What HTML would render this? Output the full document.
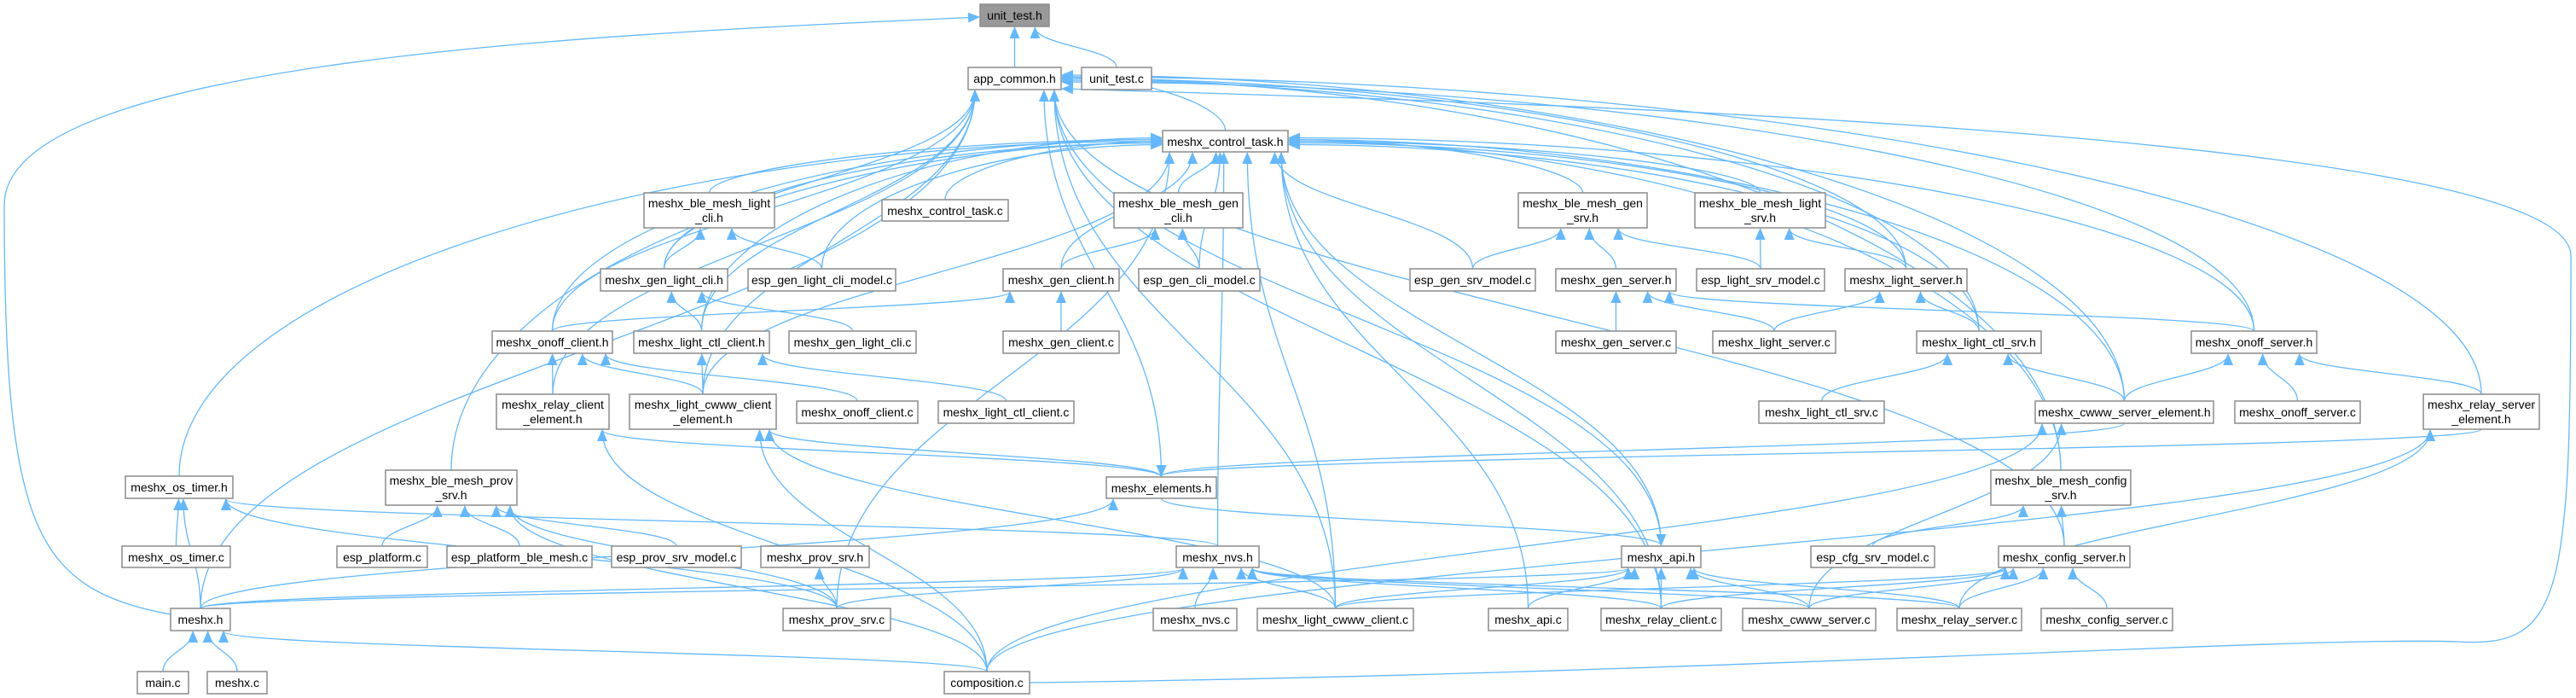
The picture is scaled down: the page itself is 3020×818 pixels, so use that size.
<!DOCTYPE html>
<html><head><meta charset="utf-8"><style>
html,body{margin:0;padding:0;background:#fff;}
svg{display:block;}
text{font-family:"Liberation Sans",Arial,sans-serif;font-size:14px;fill:#000;text-anchor:middle;}
rect{fill:#fff;stroke:#8c8c8c;stroke-width:1.5;}
</style></head><body>
<svg id="s" width="3020" height="818" xmlns="http://www.w3.org/2000/svg">
<defs><marker id="a" markerUnits="userSpaceOnUse" markerWidth="14" markerHeight="12" refX="13" refY="6" orient="auto"><path d="M0,0 L14,6 L0,12 z" fill="#63b8ff"/></marker></defs>
<g id="edges" fill="none" stroke="#63b8ff" stroke-width="1.3"></g>
<g id="nodes">
<g id="ut_h"><rect x="1149" y="5" width="81" height="26" style="fill:#999"/><text x="1189.5" y="23">unit_test.h</text></g>
<g id="ac"><rect x="1135" y="79" width="109" height="26"/><text x="1189.5" y="97">app_common.h</text></g>
<g id="ut_c"><rect x="1268" y="79" width="82" height="26"/><text x="1309" y="97">unit_test.c</text></g>
<g id="ct_h"><rect x="1363" y="153" width="147" height="25"/><text x="1436.5" y="171">meshx_control_task.h</text></g>
<g id="blc"><rect x="755" y="226" width="153" height="41"/><text x="831.5" y="243">meshx_ble_mesh_light</text><text x="831.5" y="260">_cli.h</text></g>
<g id="ct_c"><rect x="1034" y="234" width="148" height="25"/><text x="1108" y="252">meshx_control_task.c</text></g>
<g id="bgc"><rect x="1306" y="226" width="151" height="41"/><text x="1381.5" y="243">meshx_ble_mesh_gen</text><text x="1381.5" y="260">_cli.h</text></g>
<g id="glc_h"><rect x="704" y="315" width="149" height="26"/><text x="778.5" y="333">meshx_gen_light_cli.h</text></g>
<g id="eglc"><rect x="877" y="315" width="173" height="26"/><text x="963.5" y="333">esp_gen_light_cli_model.c</text></g>
<g id="gc_h"><rect x="1176" y="315" width="136" height="26"/><text x="1244" y="333">meshx_gen_client.h</text></g>
<g id="egc"><rect x="1335" y="315" width="142" height="26"/><text x="1406" y="333">esp_gen_cli_model.c</text></g>
<g id="oc_h"><rect x="577" y="388" width="141" height="26"/><text x="647.5" y="406">meshx_onoff_client.h</text></g>
<g id="lcc_h"><rect x="743" y="388" width="159" height="26"/><text x="822.5" y="406">meshx_light_ctl_client.h</text></g>
<g id="glc_c"><rect x="925" y="388" width="149" height="26"/><text x="999.5" y="406">meshx_gen_light_cli.c</text></g>
<g id="gc_c"><rect x="1176" y="388" width="136" height="26"/><text x="1244" y="406">meshx_gen_client.c</text></g>
<g id="rce"><rect x="582" y="462" width="132" height="41"/><text x="648" y="479">meshx_relay_client</text><text x="648" y="496">_element.h</text></g>
<g id="lcwce"><rect x="738" y="462" width="172" height="41"/><text x="824" y="479">meshx_light_cwww_client</text><text x="824" y="496">_element.h</text></g>
<g id="oc_c"><rect x="934" y="470" width="142" height="26"/><text x="1005" y="488">meshx_onoff_client.c</text></g>
<g id="lcc_c"><rect x="1100" y="470" width="159" height="26"/><text x="1179.5" y="488">meshx_light_ctl_client.c</text></g>
<g id="el_h"><rect x="1297" y="559" width="129" height="25"/><text x="1361.5" y="577">meshx_elements.h</text></g>
<g id="ost_h"><rect x="147" y="558" width="126" height="26"/><text x="210" y="576">meshx_os_timer.h</text></g>
<g id="bps"><rect x="452" y="551" width="154" height="41"/><text x="529" y="568">meshx_ble_mesh_prov</text><text x="529" y="585">_srv.h</text></g>
<g id="ost_c"><rect x="143" y="640" width="127" height="25"/><text x="206.5" y="658">meshx_os_timer.c</text></g>
<g id="ep"><rect x="395" y="640" width="106" height="25"/><text x="448" y="658">esp_platform.c</text></g>
<g id="epbm"><rect x="524" y="640" width="170" height="25"/><text x="609" y="658">esp_platform_ble_mesh.c</text></g>
<g id="epsm"><rect x="717" y="640" width="152" height="25"/><text x="793" y="658">esp_prov_srv_model.c</text></g>
<g id="ps_h"><rect x="892" y="640" width="127" height="25"/><text x="955.5" y="658">meshx_prov_srv.h</text></g>
<g id="nvs_h"><rect x="1379" y="640" width="97" height="25"/><text x="1427.5" y="658">meshx_nvs.h</text></g>
<g id="mx_h"><rect x="200" y="713" width="70" height="26"/><text x="235" y="731">meshx.h</text></g>
<g id="ps_c"><rect x="918" y="713" width="126" height="26"/><text x="981" y="731">meshx_prov_srv.c</text></g>
<g id="nvs_c"><rect x="1352" y="713" width="98" height="26"/><text x="1401" y="731">meshx_nvs.c</text></g>
<g id="main"><rect x="161" y="787" width="60" height="26"/><text x="191" y="805">main.c</text></g>
<g id="mx_c"><rect x="243" y="787" width="70" height="26"/><text x="278" y="805">meshx.c</text></g>
<g id="comp"><rect x="1107" y="787" width="100" height="26"/><text x="1157" y="805">composition.c</text></g>
<g id="bgs"><rect x="1780" y="226" width="151" height="41"/><text x="1855.5" y="243">meshx_ble_mesh_gen</text><text x="1855.5" y="260">_srv.h</text></g>
<g id="bls"><rect x="1987" y="226" width="153" height="41"/><text x="2063.5" y="243">meshx_ble_mesh_light</text><text x="2063.5" y="260">_srv.h</text></g>
<g id="egsm"><rect x="1653" y="315" width="147" height="26"/><text x="1726.5" y="333">esp_gen_srv_model.c</text></g>
<g id="gs_h"><rect x="1824" y="315" width="141" height="26"/><text x="1894.5" y="333">meshx_gen_server.h</text></g>
<g id="elsm"><rect x="1989" y="315" width="150" height="26"/><text x="2064" y="333">esp_light_srv_model.c</text></g>
<g id="ls_h"><rect x="2163" y="315" width="143" height="26"/><text x="2234.5" y="333">meshx_light_server.h</text></g>
<g id="gs_c"><rect x="1824" y="388" width="141" height="26"/><text x="1894.5" y="406">meshx_gen_server.c</text></g>
<g id="ls_c"><rect x="2008" y="388" width="144" height="26"/><text x="2080" y="406">meshx_light_server.c</text></g>
<g id="lcs_h"><rect x="2247" y="388" width="146" height="26"/><text x="2320" y="406">meshx_light_ctl_srv.h</text></g>
<g id="os_h"><rect x="2569" y="388" width="147" height="26"/><text x="2642.5" y="406">meshx_onoff_server.h</text></g>
<g id="lcs_c"><rect x="2062" y="470" width="147" height="26"/><text x="2135.5" y="488">meshx_light_ctl_srv.c</text></g>
<g id="cwse"><rect x="2386" y="470" width="209" height="26"/><text x="2490.5" y="488">meshx_cwww_server_element.h</text></g>
<g id="os_c"><rect x="2620" y="470" width="147" height="26"/><text x="2693.5" y="488">meshx_onoff_server.c</text></g>
<g id="rse"><rect x="2841" y="462" width="136" height="41"/><text x="2909" y="479">meshx_relay_server</text><text x="2909" y="496">_element.h</text></g>
<g id="bcs"><rect x="2334" y="551" width="164" height="41"/><text x="2416" y="568">meshx_ble_mesh_config</text><text x="2416" y="585">_srv.h</text></g>
<g id="api_h"><rect x="1901" y="640" width="93" height="25"/><text x="1947.5" y="658">meshx_api.h</text></g>
<g id="ecsm"><rect x="2123" y="640" width="145" height="25"/><text x="2195.5" y="658">esp_cfg_srv_model.c</text></g>
<g id="cs_h"><rect x="2343" y="640" width="154" height="25"/><text x="2420" y="658">meshx_config_server.h</text></g>
<g id="lcw_c"><rect x="1474" y="713" width="183" height="26"/><text x="1565.5" y="731">meshx_light_cwww_client.c</text></g>
<g id="api_c"><rect x="1745" y="713" width="93" height="26"/><text x="1791.5" y="731">meshx_api.c</text></g>
<g id="rc_c"><rect x="1877" y="713" width="141" height="26"/><text x="1947.5" y="731">meshx_relay_client.c</text></g>
<g id="cws_c"><rect x="2043" y="713" width="156" height="26"/><text x="2121" y="731">meshx_cwww_server.c</text></g>
<g id="rs_c"><rect x="2224" y="713" width="146" height="26"/><text x="2297" y="731">meshx_relay_server.c</text></g>
<g id="cs_c"><rect x="2393" y="713" width="154" height="26"/><text x="2470" y="731">meshx_config_server.c</text></g>
</g>
</svg>
<script>
(function(){
var NS="http://www.w3.org/2000/svg";
function box(id){var r=document.querySelector('#'+id+' rect');var x=+r.getAttribute('x'),y=+r.getAttribute('y'),w=+r.getAttribute('width'),h=+r.getAttribute('height');return {x1:x,y1:y,x2:x+w,y2:y+h,cx:x+w/2,cy:y+h/2};}
var E=[["ac","ut_h"],["ut_c","ut_h"],["ct_h","ac"],
["oc_h","ac"],["lcwce","ac"],["rce","ac"],["lcc_h","ac"],["glc_h","ac"],["el_h","ac"],["lcw_c","ac"],["mx_h","ac"],["ls_h","ac"],["lcs_h","ac"],["os_h","ac"],["cwse","ac"],["rse","ac"],["cs_h","ac"],["api_h","ac"],["bcs","ac"],["rc_c","ac"],
["blc","ct_h"],["ct_c","ct_h"],["bgc","ct_h"],["glc_h","ct_h"],["eglc","ct_h"],["gc_h","ct_h"],["egc","ct_h"],["lcc_h","ct_h"],["oc_h","ct_h"],["lcwce","ct_h"],["ost_h","ct_h"],["bps","ct_h"],["nvs_h","ct_h"],["lcw_c","ct_h"],["api_c","ct_h"],["api_h","ct_h"],["bgs","ct_h"],["bls","ct_h"],["egsm","ct_h"],["ls_h","ct_h"],["lcs_h","ct_h"],["os_h","ct_h"],["cwse","ct_h"],["bcs","ct_h"],["rc_c","ct_h"],["ps_c","ct_h"],
["glc_h","blc"],["eglc","blc"],["gc_h","bgc"],["egc","bgc"],["gc_c","gc_h"],["oc_h","gc_h"],["lcc_h","glc_h"],["glc_c","glc_h"],["lcwce","lcc_h"],["lcc_c","lcc_h"],
["rce","oc_h"],["lcwce","oc_h"],["oc_c","oc_h"],["el_h","lcwce"],["el_h","rce"],["lcw_c","lcwce"],["comp","lcwce"],["comp","rce"],
["cwse","el_h"],["rse","el_h"],["mx_h","el_h"],["mx_h","api_h"],["mx_h","nvs_h"],["mx_h","ost_h"],["main","mx_h"],["mx_c","mx_h"],["comp","mx_h"],
["ost_c","ost_h"],["ps_c","ost_h"],["nvs_h","ost_h"],["ep","bps"],["epbm","bps"],["epsm","bps"],["ps_c","bps"],["comp","bps"],["ps_c","ps_h"],
["nvs_c","nvs_h"],["ps_c","nvs_h"],["lcw_c","nvs_h"],["rc_c","nvs_h"],["cws_c","nvs_h"],["rs_c","nvs_h"],
["api_c","api_h"],["rc_c","api_h"],["cws_c","api_h"],["rs_c","api_h"],["lcw_c","api_h"],["el_h","api_h"],
["egsm","bgs"],["gs_h","bgs"],["elsm","bgs"],["elsm","bls"],["ls_h","bls"],["gs_c","gs_h"],["ls_c","gs_h"],["os_h","gs_h"],["ls_c","ls_h"],["lcs_h","ls_h"],
["lcs_c","lcs_h"],["cwse","lcs_h"],["os_c","os_h"],["cwse","os_h"],["rse","os_h"],["cws_c","cwse"],["comp","cwse"],["rs_c","rse"],["comp","rse"],
["ecsm","bcs"],["cs_h","bcs"],["cs_c","cs_h"],["rs_c","cs_h"],["rc_c","cs_h"],["cws_c","cs_h"],["lcw_c","cs_h"]];
var g=document.getElementById('edges');
function add(d){var p=document.createElementNS(NS,'path');p.setAttribute('d',d);p.setAttribute('marker-end','url(#a)');g.appendChild(p);}
var cnt={};
E.forEach(function(e){var c=box(e[0]),p=box(e[1]),d;
 var side=(e[1]=="ac"||e[1]=="ct_h");
 if(p.y2<c.y1-4){var sx=c.cx,sy=c.y1,dy=sy-p.y2;
  var hd=Math.max(p.x1-c.cx,c.cx-p.x2);
  if(side&&hd>2.2*dy){var l=c.cx<p.x1;var ex=l?p.x1:p.x2;var k=e[1]+(l?'L':'R');cnt[k]=(cnt[k]||0)+1;
   var ey=p.cy+((cnt[k]%5)-2)*2;
   d="M"+sx+","+sy+" C"+sx+","+(sy-dy*0.6)+" "+(ex+(sx-ex)*0.5)+","+ey+" "+(l?ex-1:ex+1)+","+ey;}
  else{var ex=p.cx;ex=Math.max(p.x1+8,Math.min(p.x2-8,ex+(sx-ex)*0.2));var ey=p.y2;
  d="M"+sx+","+sy+" C"+sx+","+(sy-dy*0.45)+" "+ex+","+(ey+dy*0.45)+" "+ex+","+(ey+1);}}
 else if(p.y1>c.y2+4){var sx=c.cx,sy=c.y2,ex=p.cx,ey=p.y1,dy=ey-sy;
  d="M"+sx+","+sy+" C"+sx+","+(sy+dy*0.45)+" "+ex+","+(ey-dy*0.45)+" "+ex+","+(ey-1);}
 else{var l=p.cx<c.cx;var sx=l?c.x1:c.x2,ex=l?p.x2:p.x1,sy=c.cy,ey=p.cy,dx=ex-sx;
  d="M"+sx+","+sy+" C"+(sx+dx*0.4)+","+sy+" "+(ex-dx*0.4)+","+ey+" "+ex+","+ey;}
 add(d);});
add("M200,720 C40,690 5,620 5,240 C5,70 700,40 1148,20");
add("M1207,800 C2000,790 2700,745 2880,752 C3005,760 3014,700 3014,300 C3014,150 1700,118 1245,104");
})();
</script>
</body></html>
